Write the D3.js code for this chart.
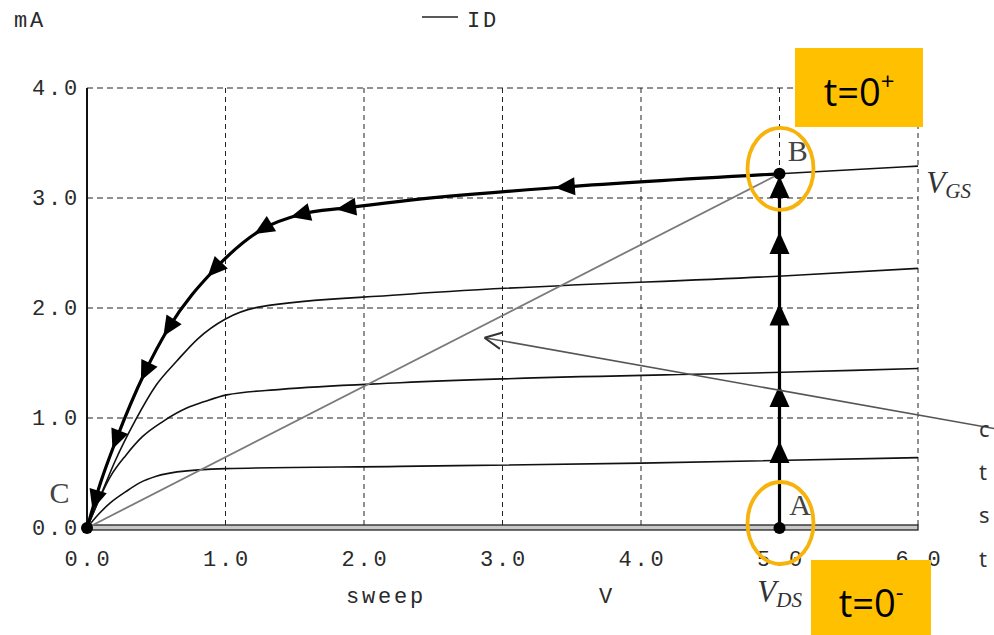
<!DOCTYPE html>
<html>
<head>
<meta charset="utf-8">
<script src="https://cdn.jsdelivr.net/npm/d3@7"></script>
<style>
  body { margin: 0; background: #fff; }
  svg { display: block; }
</style>
</head>
<body>
<div id="chart"></div>
<script>
// axis ticks
const xTicks = [0, 1, 2, 3, 4, 5, 6];
const yTicks = [0, 1, 2, 3, 4];

// ID(VDS) curves, one per VGS step  [V, mA]
const curveVgs1 = [[0, 0], [0.08, 0.12], [0.17, 0.23], [0.28, 0.33], [0.38, 0.41], [0.5, 0.47], [0.65, 0.51], [1.0, 0.54], [2.26, 0.56], [4.0, 0.59], [6.0, 0.64]];
const curveVgs2 = [[0, 0], [0.17, 0.47], [0.28, 0.66], [0.4, 0.83], [0.55, 0.97], [0.72, 1.09], [0.85, 1.15], [1.01, 1.21], [1.4, 1.26], [2.26, 1.32], [5.15, 1.42], [6.0, 1.45]];
const curveVgs3 = [[0, 0], [0.1, 0.3], [0.2, 0.6], [0.35, 0.98], [0.5, 1.3], [0.65, 1.52], [0.8, 1.72], [1.0, 1.9], [1.25, 2.01], [2.26, 2.12], [5.15, 2.3], [6.0, 2.36]];
const curveVgs4 = [[0, 0], [0.1, 0.42], [0.21, 0.8], [0.42, 1.42], [0.59, 1.82], [0.92, 2.35], [1.27, 2.72], [1.54, 2.85], [1.87, 2.91], [2.26, 2.97], [3.45, 3.1], [5.0, 3.22], [6.0, 3.29]];

// switching trajectory
const pointA = [5, 0];
const pointB = [5, 3.22];
const pointC = [0, 0];
const arrowsAB = [0.69, 1.2, 1.94, 2.59, 3.1];              // mA on the vertical jump
const arrowsBC = [0.06, 0.21, 0.42, 0.59, 0.92, 1.27, 1.54, 1.87, 3.45]; // V along the top curve
const loadLine = [pointC, pointB];
const pointerLine = [[6.66, 0.88], [2.87, 1.73]];           // annotation arrow tail -> tip
const sideText = [["c", 0.91], ["t", 0.52], ["s", 0.13], ["t", -0.27]];

const width = 994, height = 635;
const x = d3.scaleLinear().domain([0, 6]).range([87, 918]);
const y = d3.scaleLinear().domain([0, 4]).range([528, 88]);

const svg = d3.select("#chart").append("svg")
  .attr("width", width)
  .attr("height", height)
  .style("font-family", "'Liberation Mono', monospace");

// mono text look of the simulator plot
const mono = (sel) => sel
  .attr("font-size", 22)
  .attr("letter-spacing", 2.8)
  .attr("fill", "#2a2a2a");

// grid
svg.append("g")
  .selectAll("line")
  .data(xTicks.slice(1))
  .join("line")
  .attr("x1", (d) => x(d)).attr("x2", (d) => x(d))
  .attr("y1", y(4)).attr("y2", y(0))
  .attr("stroke", "#222")
  .attr("stroke-width", 1)
  .attr("stroke-dasharray", "5,4");

svg.append("g")
  .selectAll("line")
  .data(yTicks.slice(1))
  .join("line")
  .attr("x1", x(0)).attr("x2", x(6))
  .attr("y1", (d) => y(d)).attr("y2", (d) => y(d))
  .attr("stroke", "#222")
  .attr("stroke-width", 1)
  .attr("stroke-dasharray", "6,4");

// left axis
svg.append("line")
  .attr("x1", x(0)).attr("x2", x(0))
  .attr("y1", y(4)).attr("y2", y(0))
  .attr("stroke", "#111")
  .attr("stroke-width", 2);

// bottom (ID = 0 trace), drawn as a double line
svg.append("rect")
  .attr("x", x(0)).attr("y", y(0) - 3)
  .attr("width", x(6) - x(0)).attr("height", 5)
  .attr("fill", "#c8c8c8")
  .attr("stroke", "#222")
  .attr("stroke-width", 1.3);

// tick labels
svg.append("g")
  .selectAll("text")
  .data(xTicks)
  .join("text")
  .attr("x", (d) => x(d) + 1.4)
  .attr("y", 566)
  .attr("text-anchor", "middle")
  .call(mono)
  .text((d) => d.toFixed(1));

svg.append("g")
  .selectAll("text")
  .data(yTicks)
  .join("text")
  .attr("x", 80)
  .attr("y", (d) => y(d) + 7)
  .attr("text-anchor", "end")
  .call(mono)
  .text((d) => d.toFixed(1));

svg.append("text").attr("x", 14).attr("y", 27).call(mono).text("mA");
svg.append("line").attr("x1", 422).attr("x2", 458).attr("y1", 17).attr("y2", 17).attr("stroke", "#222").attr("stroke-width", 1.5);
svg.append("text").attr("x", 467).attr("y", 27).call(mono).text("ID");
svg.append("text").attr("x", 346).attr("y", 603).call(mono).text("sweep");
svg.append("text").attr("x", 599).attr("y", 603).call(mono).text("V");

// curves
const line = d3.line()
  .x((d) => x(d[0]))
  .y((d) => y(d[1]))
  .curve(d3.curveMonotoneX);

svg.append("g")
  .selectAll("path")
  .data([curveVgs1, curveVgs2, curveVgs3, curveVgs4])
  .join("path")
  .attr("d", line)
  .attr("fill", "none")
  .attr("stroke", "#111")
  .attr("stroke-width", 1.6);

// load line C -> B
svg.append("path")
  .attr("d", d3.line().x((d) => x(d[0])).y((d) => y(d[1]))(loadLine))
  .attr("fill", "none")
  .attr("stroke", "#7a7a7a")
  .attr("stroke-width", 1.8);

// trajectory B -> C (thick, on top curve)
const trajBC = curveVgs4.filter((d) => d[0] <= pointB[0]);
svg.append("path")
  .attr("d", line(trajBC))
  .attr("fill", "none")
  .attr("stroke", "#000")
  .attr("stroke-width", 3.2);

// trajectory A -> B
svg.append("line")
  .attr("x1", x(pointA[0])).attr("x2", x(pointB[0]))
  .attr("y1", y(pointA[1])).attr("y2", y(pointB[1]))
  .attr("stroke", "#000")
  .attr("stroke-width", 3.2);

const tri = "M10,0 L-10,-9 L-10,9 Z";
const yOnTop = d3.scaleLinear().domain(trajBC.map((d) => d[0])).range(trajBC.map((d) => d[1]));

svg.append("g")
  .selectAll("path")
  .data(arrowsBC)
  .join("path")
  .attr("d", tri)
  .attr("fill", "#000")
  .attr("transform", (v) => {
    const a = [x(v + 0.03), y(yOnTop(v + 0.03))];
    const b = [x(Math.max(0, v - 0.03)), y(yOnTop(Math.max(0, v - 0.03)))];
    const ang = (Math.atan2(b[1] - a[1], b[0] - a[0]) * 180) / Math.PI;
    return `translate(${x(v)},${y(yOnTop(v))}) rotate(${ang})`;
  });

svg.append("g")
  .selectAll("path")
  .data(arrowsAB)
  .join("path")
  .attr("d", "M0,-11 L-10,11 L10,11 Z")
  .attr("fill", "#000")
  .attr("transform", (v) => `translate(${x(pointA[0])},${y(v)})`);

svg.append("g")
  .selectAll("circle")
  .data([pointA, pointB, pointC])
  .join("circle")
  .attr("cx", (d) => x(d[0]))
  .attr("cy", (d) => y(d[1]))
  .attr("r", 6)
  .attr("fill", "#000");

// pointer annotation
const [pTail, pTip] = pointerLine;
svg.append("line")
  .attr("x1", x(pTail[0])).attr("y1", y(pTail[1]))
  .attr("x2", x(pTip[0])).attr("y2", y(pTip[1]))
  .attr("stroke", "#555")
  .attr("stroke-width", 1.6);
const pAng = Math.atan2(y(pTail[1]) - y(pTip[1]), x(pTail[0]) - x(pTip[0]));
svg.append("path")
  .attr("d", [-0.45, 0.45].map((da) => {
    const a = pAng + da;
    return `M${x(pTip[0]) + 19 * Math.cos(a)},${y(pTip[1]) + 19 * Math.sin(a)} L${x(pTip[0])},${y(pTip[1])}`;
  }).join(" "))
  .attr("fill", "none")
  .attr("stroke", "#333")
  .attr("stroke-width", 2);

// first letters of the text at the right edge of the slide
svg.append("g")
  .selectAll("text")
  .data(sideText)
  .join("text")
  .attr("x", 979)
  .attr("y", (d) => y(d[1]) + 9)
  .attr("font-family", "'Noto Sans', sans-serif")
  .attr("font-size", 22)
  .attr("fill", "#333")
  .text((d) => d[0]);

// point labels
const serif = "'Liberation Serif', 'DejaVu Serif', serif";
const labels = [
  { t: "C", x: -0.27, y: 0.23 },
  { t: "B", x: 5.06, y: 3.34 },
  { t: "A", x: 5.07, y: 0.12 }
];
svg.append("g")
  .selectAll("text")
  .data(labels)
  .join("text")
  .attr("x", (d) => x(d.x))
  .attr("y", (d) => y(d.y))
  .attr("font-family", serif)
  .attr("font-size", 30)
  .attr("fill", "#444")
  .text((d) => d.t);

const vgs = svg.append("text").attr("x", x(6.06)).attr("y", y(3.05))
  .attr("font-family", serif).attr("font-style", "italic").attr("font-size", 31).attr("fill", "#333");
vgs.append("tspan").text("V");
vgs.append("tspan").attr("font-size", 21).attr("dy", 5).text("GS");

const vds = svg.append("text").attr("x", x(4.84)).attr("y", 602)
  .attr("font-family", serif).attr("font-style", "italic").attr("font-size", 31).attr("fill", "#333");
vds.append("tspan").text("V");
vds.append("tspan").attr("font-size", 21).attr("dy", 5).text("DS");

// highlight ellipses
svg.append("g")
  .selectAll("ellipse")
  .data([pointB, pointA])
  .join("ellipse")
  .attr("cx", (d) => x(d[0]) + 1)
  .attr("cy", (d) => y(d[1]) - 5)
  .attr("rx", 33)
  .attr("ry", 41)
  .attr("fill", "none")
  .attr("stroke", "#F7B30C")
  .attr("stroke-width", 3.8);

// time boxes
const boxes = [
  { x: 795, y: 48, w: 128, h: 79, sup: "+", base: 106 },
  { x: 811, y: 560, w: 120, h: 75, sup: "-", base: 617 }
];
const bx = svg.append("g").selectAll("g").data(boxes).join("g");
bx.append("rect")
  .attr("x", (d) => d.x).attr("y", (d) => d.y)
  .attr("width", (d) => d.w).attr("height", (d) => d.h)
  .attr("fill", "#FFC000");
const bt = bx.append("text")
  .attr("x", (d) => d.x + d.w / 2)
  .attr("y", (d) => d.base)
  .attr("text-anchor", "middle")
  .attr("font-family", "'Open Sans', sans-serif")
  .attr("font-size", 38)
  .attr("fill", "#000");
bt.append("tspan").text("t=0");
bt.append("tspan").attr("font-size", 24).attr("dy", -16).text((d) => d.sup);
</script>
</body>
</html>
